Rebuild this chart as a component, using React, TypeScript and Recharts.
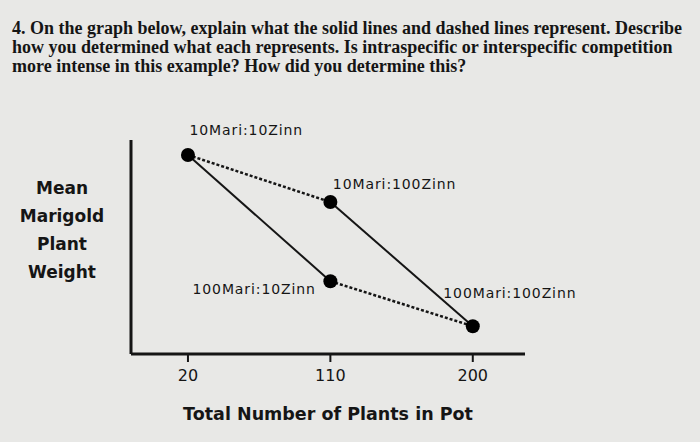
import React from 'react';
import { ComposedChart, Line, Scatter, XAxis, YAxis, LabelList } from 'recharts';

// plot points: pot mix, total plants, mean marigold weight (relative units)
const ratios = ['10Mari:10Zinn', '10Mari:100Zinn', '100Mari:10Zinn', '100Mari:100Zinn'];
const totals = [20, 110, 110, 200];
const weights = [93, 71, 34, 13];
const xTicks = [20, 110, 200];

// which points are joined: solid = zinnia fixed, dashed = marigold fixed
const solidPairs = [[0, 2], [1, 3]];
const dashedPairs = [[0, 1], [2, 3]];

const yLabelLines = ['Mean', 'Marigold', 'Plant', 'Weight'];
const questionLines = [
  '4. On the graph below, explain what the solid lines and dashed lines represent. Describe',
  'how you determined what each represents. Is intraspecific or interspecific competition',
  'more intense in this example? How did you determine this?',
];

const points = ratios.map((name, i) => ({ name, x: totals[i], y: weights[i] }));
const seg = (pair: number[]) => pair.map(i => points[i]);

const ink = '#151515';
const sansFont = '"DejaVu Sans", Verdana, sans-serif';

// label placement around each dot
const labelPlace: Record<string, { dx: number; dy: number; anchor: 'start' | 'end' }> = {
  '10Mari:10Zinn': { dx: 6, dy: -20, anchor: 'start' },
  '10Mari:100Zinn': { dx: 7, dy: -14, anchor: 'start' },
  '100Mari:10Zinn': { dx: -10, dy: 12, anchor: 'end' },
  '100Mari:100Zinn': { dx: -25, dy: -29, anchor: 'start' },
};

const PointLabel = (props: any) => {
  const { x, y, value } = props;
  const p = labelPlace[value] || { dx: 0, dy: -12, anchor: 'start' };
  return (
    <text x={x + p.dx} y={y + p.dy} textAnchor={p.anchor} dominantBaseline="central"
      fontFamily={sansFont} fontSize={14} letterSpacing={0.9} fill={ink}>
      {value}
    </text>
  );
};

const YTitle = () => (
  <g>
    {yLabelLines.map((line, i) => (
      <text key={line} x={62} y={188 + i * 28} textAnchor="middle" dominantBaseline="central"
        fontFamily={sansFont} fontWeight="bold" fontSize={17} fill={ink}>
        {line}
      </text>
    ))}
  </g>
);

export default function App() {
  return (
    <div style={{ position: 'absolute', left: 0, top: 0, width: 700, height: 442, background: '#e8e8e6', overflow: 'hidden' }}>
      <div style={{
        position: 'absolute', left: 12, top: 19, whiteSpace: 'nowrap',
        fontFamily: '"Liberation Serif", "Times New Roman", serif', fontWeight: 'bold',
        fontSize: 18, lineHeight: '19px', color: ink,
      }}>
        {questionLines.map(l => <div key={l}>{l}</div>)}
      </div>
      <ComposedChart width={700} height={442} margin={{ top: 140, right: 175, bottom: 58, left: 130 }}>
        <XAxis
          type="number"
          dataKey="x"
          domain={[-16, 233]}
          ticks={xTicks}
          allowDataOverflow
          height={30}
          axisLine={{ stroke: ink, strokeWidth: 3 }}
          tickLine={{ stroke: ink, strokeWidth: 2 }}
          tickSize={8}
          tickMargin={8}
          tick={{ fill: ink, fontSize: 16, fontFamily: sansFont }}
          label={{ value: 'Total Number of Plants in Pot', position: 'bottom', offset: 24, fill: ink, fontSize: 17.5, fontWeight: 'bold', fontFamily: sansFont }}
        />
        <YAxis
          type="number"
          dataKey="y"
          domain={[0, 100]}
          width={1}
          tick={false}
          tickLine={false}
          axisLine={{ stroke: ink, strokeWidth: 3 }}
          label={<YTitle />}
        />
        {solidPairs.map((pair, i) => (
          <Line key={'s' + i} data={seg(pair)} dataKey="y" stroke={ink} strokeWidth={2}
            dot={false} isAnimationActive={false} />
        ))}
        {dashedPairs.map((pair, i) => (
          <Line key={'d' + i} data={seg(pair)} dataKey="y" stroke={ink} strokeWidth={2.5}
            strokeDasharray="3 2" dot={false} isAnimationActive={false} />
        ))}
        <Scatter data={points} dataKey="y" fill="#000" isAnimationActive={false}
          shape={(p: any) => <circle cx={p.cx} cy={p.cy} r={7} fill="#000" />}>
          <LabelList dataKey="name" content={<PointLabel />} />
        </Scatter>
      </ComposedChart>
    </div>
  );
}
